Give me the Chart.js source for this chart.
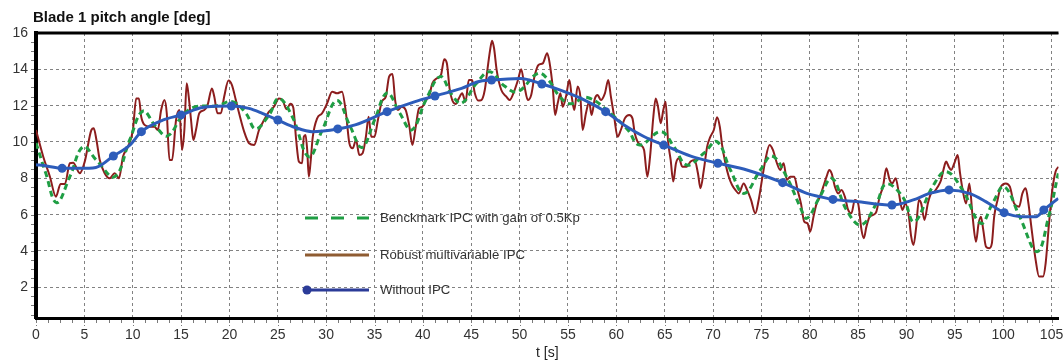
<!DOCTYPE html>
<html><head><meta charset="utf-8">
<script src="https://cdn.jsdelivr.net/npm/chart.js@4.4.1/dist/chart.umd.min.js"></script>
<style>html,body{margin:0;padding:0;background:#fff;overflow:hidden}canvas{display:block}</style>
</head><body>
<canvas id="c" width="1063" height="364"></canvas>
<script>
// ---------- data ----------
const chartTitle = 'Blade 1 pitch angle [deg]';
const xAxisTitle = 't [s]';
const seriesNames = ['Benckmark IPC with gain of 0.5Kp', 'Robust multivariable IPC', 'Without IPC'];
const yTickValues = [2, 4, 6, 8, 10, 12, 14, 16];
const xTickValues = [0,5,10,15,20,25,30,35,40,45,50,55,60,65,70,75,80,85,90,95,100,105];

// Without IPC (smooth curve)
const blueT = [0,1.1,2.7,4.5,6.2,8.0,9.7,10.9,13.1,15.0,17.2,20.2,22.0,23.4,25.0,26.8,28.55,31.2,33.0,36.3,39.2,41.25,44.0,45.7,47.1,50.1,52.3,54.0,56.35,58.9,60.8,62.9,64.9,67.7,70.5,73.5,77.2,79.7,81.05,82.4,84.8,88.5,90.7,92.4,94.4,96.5,98.2,100.1,102.0,103.4,104.2,105.7];
const blueY = [8.75,8.68,8.55,8.55,8.6,9.23,9.83,10.57,11.2,11.49,11.9,11.98,11.85,11.58,11.21,10.8,10.57,10.72,10.94,11.67,12.22,12.53,12.95,13.32,13.41,13.5,13.19,12.9,12.4,11.67,10.94,10.29,9.83,9.22,8.83,8.46,7.76,7.17,6.99,6.84,6.72,6.53,6.81,7.17,7.36,7.17,6.72,6.11,5.89,5.89,6.26,6.9];
// Without IPC markers
const blueMarkT = [2.7,8.0,10.9,15.0,20.2,25.0,31.2,36.3,41.25,47.1,52.3,58.9,64.9,70.5,77.2,82.4,88.5,94.4,100.1,104.2];
const blueMarkY = [8.55,9.23,10.57,11.49,11.98,11.21,10.72,11.67,12.53,13.41,13.19,11.67,9.83,8.83,7.76,6.84,6.53,7.36,6.11,6.26];

// Benchmark IPC (dashed green)
const greenT = [0,1.0,2.13,3.5,4.87,6.25,8.13,9.68,11.05,12.4,13.6,15.2,16.5,18.6,20.3,21.7,22.7,24.1,25.1,26.5,28.2,29.6,31.1,32.5,33.7,35.0,36.3,37.6,38.85,40.3,41.8,43.0,44.0,45.5,46.9,48.4,49.8,51.9,53.0,54.0,55.2,57.0,59.8,61.2,62.4,64.6,65.96,67.3,69.05,70.4,71.8,73.2,74.9,76.1,77.6,79.0,79.7,81.05,82.3,83.8,85.3,86.9,87.9,89.6,90.8,92.7,94.1,95.8,97.7,98.9,100.1,101.7,103.5,104.7,105.7];
const greenY = [9.95,8.3,6.66,8.09,9.74,9.0,8.09,10.1,11.7,10.84,10.33,11.49,11.94,11.98,12.22,11.58,10.72,11.49,12.4,11.39,9.19,10.66,12.28,10.84,9.7,11.2,12.7,11.6,10.66,12.3,13.6,12.6,12.13,13.2,13.87,13.1,12.77,13.78,13.4,12.6,12.1,12.45,11.39,10.66,9.83,10.57,9.74,8.73,9.38,10.02,8.46,7.17,8.46,9.23,8.09,6.44,5.8,6.99,8.0,6.26,5.43,6.62,7.69,6.99,5.61,7.54,8.37,7.36,5.52,6.62,7.54,5.89,3.96,5.89,8.28];

// Robust multivariable IPC (dark red)
const redT = [0,0.75,1.44,2.06,2.54,2.99,3.5,3.84,4.53,5.04,5.73,5.97,6.25,6.59,7.1,7.62,8.13,8.58,8.99,9.51,10.02,10.36,10.64,10.88,11.22,11.74,12.25,12.59,12.94,13.28,13.52,13.8,14.07,14.48,14.82,15.1,15.34,15.58,15.79,16.03,16.27,16.54,16.88,17.4,17.74,18.19,18.43,18.77,19.11,19.46,19.9,20.25,20.66,21.0,21.52,22.03,22.55,23.06,23.58,24.09,24.6,25.12,25.5,25.9,26.3,26.6,26.9,27.18,27.52,27.69,27.87,28.04,28.21,28.38,28.62,29.07,29.58,30.1,30.62,31.13,31.64,32.05,32.4,32.74,33.09,33.43,33.77,34.11,34.39,34.66,35.0,35.35,35.76,36.17,36.51,36.86,37.13,37.41,37.82,38.23,38.58,38.92,39.26,39.6,39.95,40.29,40.63,40.98,41.42,41.87,42.21,42.48,42.76,43.03,43.38,43.72,44.06,44.41,44.75,45.09,45.37,45.71,46.05,46.4,46.67,46.95,47.15,47.36,47.63,48.11,48.63,48.97,49.42,49.83,50.17,50.51,50.86,51.2,51.54,51.95,52.4,52.85,53.09,53.43,53.67,53.94,54.22,54.46,54.8,55.15,55.39,55.66,56.0,56.28,56.52,56.86,57.2,57.44,57.79,58.06,58.4,58.82,59.17,59.44,59.78,60.13,60.47,60.88,61.33,61.67,61.91,62.19,62.53,62.87,63.21,63.49,63.83,64.07,64.31,64.59,64.86,65.1,65.34,65.62,65.89,66.17,66.48,66.82,67.27,67.68,68.09,68.44,68.7,69.05,69.39,69.73,70.08,70.42,70.7,70.94,71.28,71.63,71.97,72.31,72.66,73.17,73.52,73.93,74.37,74.72,75.06,75.41,75.85,76.19,76.61,76.95,77.3,77.64,77.98,78.4,78.74,79.09,79.43,79.77,80.05,80.39,80.71,81.06,81.4,81.74,82.02,82.26,82.6,82.94,83.29,83.63,83.97,84.31,84.66,85.0,85.35,85.59,85.86,86.2,86.55,86.89,87.23,87.57,87.92,88.26,88.53,88.88,89.22,89.57,89.91,90.25,90.49,90.73,91.01,91.28,91.52,91.86,92.21,92.55,92.9,93.24,93.58,93.82,94.1,94.37,94.61,94.95,95.3,95.54,95.81,96.16,96.5,96.84,97.19,97.46,97.7,97.94,98.22,98.56,98.83,99.07,99.42,99.76,100.27,100.69,101.13,101.65,101.99,102.33,102.61,102.95,103.36,103.71,104.12,104.39,104.74,105.08,105.42,105.73];
const redY = [10.66,9.19,8.09,6.99,7.69,7.69,8.83,8.86,8.28,8.92,10.66,10.75,10.11,9.01,8.28,8.0,8.28,8.0,9.19,9.74,10.66,12.4,12.4,11.39,10.94,10.84,10.84,10.66,11.76,12.31,11.58,9.01,9.01,11.21,11.76,9.56,10.66,13.23,12.5,11.21,10.11,10.66,11.58,11.76,12.04,12.95,12.5,11.58,11.58,12.5,13.38,13.14,12.31,11.58,10.57,9.93,9.83,10.66,11.21,11.67,11.94,12.4,12.3,11.8,12.1,11.9,10.11,8.92,8.83,10.29,10.39,9.56,8.09,8.83,10.29,11.3,11.58,12.13,12.77,12.68,12.77,11.58,9.93,9.65,10.11,9.28,9.38,10.29,11.39,10.29,10.29,11.21,12.22,12.5,13.6,13.74,12.31,11.76,11.94,11.76,10.94,9.83,10.84,11.85,11.94,12.31,12.5,13.23,13.5,13.69,14.55,14.33,12.95,12.31,12.09,12.4,12.68,12.22,13.41,13.41,12.68,12.28,12.31,12.86,13.96,15.06,15.58,15.16,13.96,12.86,12.5,12.31,12.77,13.41,14.0,13.05,12.31,12.59,13.6,14.24,14.33,14.88,14.4,13.0,11.49,12.13,12.68,11.94,12.5,13.41,12.5,11.76,13.05,12.5,10.66,11.58,12.22,11.49,12.4,12.59,12.31,12.68,13.41,12.5,11.39,10.29,10.66,11.3,11.49,11.3,10.48,10.02,9.83,9.56,8.09,9.19,11.39,12.4,11.94,11.03,11.76,12.22,10.11,9.01,7.82,8.83,9.1,8.64,8.64,8.92,9.01,8.28,7.45,8.46,9.74,10.29,10.66,11.36,10.84,9.83,8.83,8.09,7.63,7.36,7.17,7.72,7.36,6.81,6.07,6.81,7.91,9.01,9.83,9.56,8.83,8.46,8.83,7.91,8.09,8.09,7.36,6.62,5.61,5.52,5.06,5.89,6.62,6.99,7.54,8.09,8.46,8.28,7.54,7.17,7.36,6.99,6.26,6.07,6.81,6.62,5.16,4.7,5.34,5.89,5.98,6.17,6.99,7.54,8.55,7.91,7.72,8.0,7.17,6.26,6.62,5.89,4.79,4.33,5.34,6.81,6.62,5.71,6.62,7.17,7.27,7.54,7.91,8.46,8.92,8.64,8.46,8.83,9.28,8.28,7.36,6.62,7.72,5.89,4.51,5.52,5.89,5.16,4.24,4.15,4.42,5.89,6.81,7.54,7.72,7.54,6.62,6.44,7.17,7.45,6.62,5.16,3.5,2.59,2.59,3.32,5.52,7.36,8.37,8.64];

// ---------- styles ----------
const BLUE = '#2d5cba', GREEN = '#1f9e44', RED = '#8c1d1d';
const pts = (ts, ys) => ts.map((t, i) => ({ x: t, y: ys[i] }));
const tickFont = { family: '"Liberation Sans", Arial, sans-serif', size: 14 };

const deco = {
  id: 'deco',
  afterDatasetsDraw(chart) {
    const { ctx, chartArea: a, scales: { x, y } } = chart;
    ctx.save();
    // top frame line
    ctx.strokeStyle = '#000'; ctx.lineWidth = 3;
    ctx.beginPath(); ctx.moveTo(a.left - 2, a.top); ctx.lineTo(a.right, a.top); ctx.stroke();
    // minor ticks
    ctx.strokeStyle = '#7a7a7a'; ctx.lineWidth = 1; ctx.beginPath();
    for (let v = 1.25; v < x.max; v += 1.25) {
      const px = Math.round(x.getPixelForValue(v)) + 0.5;
      ctx.moveTo(px, a.bottom + 2); ctx.lineTo(px, a.bottom + 5);
    }
    for (let v = 0.5; v < y.max; v += 0.5) {
      const py = Math.round(y.getPixelForValue(v)) + 0.5;
      ctx.moveTo(a.left - 5, py); ctx.lineTo(a.left - 2, py);
    }
    ctx.stroke();
    // major tick extension below axis (dashed look)
    ctx.setLineDash([3, 2]); ctx.beginPath();
    xTickValues.forEach(v => {
      const px = Math.round(x.getPixelForValue(v)) + 0.5;
      ctx.moveTo(px, a.bottom + 2); ctx.lineTo(px, a.bottom + 8);
    });
    ctx.stroke(); ctx.setLineDash([]);

    // legend inside plot
    const lx0 = 305, lx1 = 369, tx = 380;
    const rows = [218, 255, 290];
    let fam = '"Liberation Sans Narrow", "Liberation Sans", sans-serif';
    let size = 15;
    ctx.font = size + 'px ' + fam;
    const w = ctx.measureText(seriesNames[0]).width;
    if (w > 205) size = Math.max(10, size * 200 / w);
    ctx.font = size + 'px ' + fam;
    ctx.fillStyle = '#333'; ctx.textBaseline = 'middle'; ctx.textAlign = 'left';
    // green dashed
    ctx.strokeStyle = GREEN; ctx.lineWidth = 3; ctx.setLineDash([13, 13]);
    ctx.beginPath(); ctx.moveTo(lx0, rows[0]); ctx.lineTo(lx1, rows[0]); ctx.stroke();
    ctx.setLineDash([]);
    ctx.fillText(seriesNames[0], tx, rows[0]);
    // brown line
    ctx.strokeStyle = '#8f5c32'; ctx.lineWidth = 3;
    ctx.beginPath(); ctx.moveTo(lx0, rows[1]); ctx.lineTo(lx1, rows[1]); ctx.stroke();
    ctx.fillText(seriesNames[1], tx, rows[1]);
    // navy line + marker
    ctx.strokeStyle = '#2b3b98'; ctx.lineWidth = 3;
    ctx.beginPath(); ctx.moveTo(lx0, rows[2]); ctx.lineTo(lx1, rows[2]); ctx.stroke();
    ctx.fillStyle = '#2b3b98';
    ctx.beginPath(); ctx.arc(lx0 + 2, rows[2], 4.5, 0, Math.PI * 2); ctx.fill();
    ctx.fillStyle = '#333';
    ctx.fillText(seriesNames[2], tx, rows[2]);

    // title
    ctx.font = 'bold 15px "Liberation Sans", Arial, sans-serif';
    ctx.fillStyle = '#111';
    ctx.fillText(chartTitle, 33, 18);
    ctx.restore();
  }
};

new Chart(document.getElementById('c'), {
  type: 'line',
  data: {
    datasets: [
      { label: seriesNames[2] + ' markers', data: pts(blueMarkT, blueMarkY), showLine: false,
        pointRadius: 4.5, pointBackgroundColor: BLUE, pointBorderColor: BLUE, pointBorderWidth: 0 },
      { label: seriesNames[2], data: pts(blueT, blueY), borderColor: BLUE, borderWidth: 3,
        pointRadius: 0, cubicInterpolationMode: 'monotone', fill: false },
      { label: seriesNames[0], data: pts(greenT, greenY), borderColor: GREEN, borderWidth: 3,
        borderDash: [6, 4], pointRadius: 0, tension: 0.4, fill: false },
      { label: seriesNames[1], data: pts(redT, redY), borderColor: RED, borderWidth: 2,
        pointRadius: 0, cubicInterpolationMode: 'monotone', fill: false }
    ]
  },
  options: {
    responsive: false, animation: false, devicePixelRatio: 1,
    layout: { padding: { top: 33, left: 0, right: 0, bottom: 0 } },
    plugins: { legend: { display: false }, tooltip: { enabled: false }, title: { display: false } },
    scales: {
      x: {
        type: 'linear', min: 0, max: 105.72,
        afterBuildTicks: s => { s.ticks = xTickValues.map(v => ({ value: v })); },
        afterFit: s => { s.height = 46; s.paddingLeft = 0; s.paddingRight = 0; },
        grid: { color: '#828282', lineWidth: 1, drawTicks: false },
        border: { display: true, color: '#000', width: 3, dash: [3, 3] },
        ticks: { padding: 9, color: '#333', font: tickFont, maxRotation: 0, autoSkip: false },
        title: { display: true, text: xAxisTitle, color: '#222', font: tickFont, padding: { top: 0, bottom: 2 } }
      },
      y: {
        min: 0.31, max: 16,
        afterBuildTicks: s => { s.ticks = yTickValues.map(v => ({ value: v })); },
        afterFit: s => { s.width = 36; s.paddingTop = 0; s.paddingBottom = 0; },
        grid: { color: '#828282', lineWidth: 1, drawTicks: false },
        border: { display: true, color: '#000', width: 4, dash: [3, 3] },
        ticks: { padding: 8, color: '#333', font: tickFont, autoSkip: false }
      }
    }
  },
  plugins: [deco]
});
</script>
</body></html>
